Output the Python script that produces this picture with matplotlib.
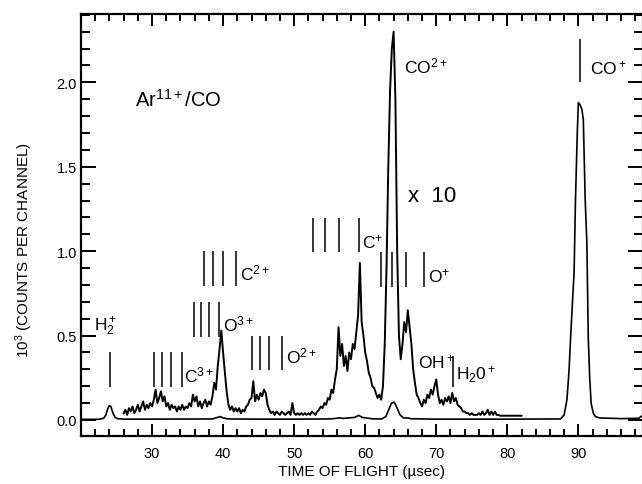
import numpy as np
import matplotlib
matplotlib.use("Agg")
import matplotlib.pyplot as plt
from matplotlib.ticker import MultipleLocator

plt.rcParams["font.family"] = ["Liberation Sans", "DejaVu Sans"]
plt.rcParams["mathtext.fontset"] = "custom"
plt.rcParams["mathtext.rm"] = "Liberation Sans"
plt.rcParams["mathtext.it"] = "Liberation Sans"

# ---- data (time of flight in usec, counts in 10^3 per channel) ----
# raw spectrum
t_raw = [20.0, 22.5, 23.2, 23.5, 23.8, 24.0, 24.2, 24.5, 24.8, 25.2, 26.0, 30.0,
         38.5, 39.2, 39.6, 40.0, 40.7, 45.0, 50.0, 55.0, 56.0, 56.4, 56.8, 58.5,
         59.1, 59.6, 61.0, 62.3, 62.9, 63.3, 63.7, 64.1, 64.5, 64.9, 65.4, 66.0,
         66.5, 70.0, 80.0, 87.5, 88.0, 88.4, 88.7, 88.9, 89.2, 89.4, 89.6, 89.85,
         90.0, 90.2, 90.5, 90.7, 90.96, 91.2, 91.4, 91.6, 91.8, 92.1, 92.4, 93.0,
         96.0, 98.5, 98.8, 99.1]
y_raw = [0.004, 0.004, 0.01, 0.03, 0.07, 0.085, 0.08, 0.04, 0.015, 0.007, 0.005, 0.005,
         0.006, 0.015, 0.02, 0.012, 0.006, 0.005, 0.005, 0.006, 0.01, 0.013, 0.009, 0.015,
         0.027, 0.015, 0.007, 0.006, 0.02, 0.06, 0.10, 0.105, 0.07, 0.03, 0.012, 0.012,
         0.007, 0.005, 0.005, 0.006, 0.03, 0.12, 0.30, 0.48, 0.72, 0.87, 1.31, 1.70,
         1.88, 1.87, 1.84, 1.78, 1.31, 1.05, 0.48, 0.25, 0.10, 0.04, 0.02, 0.012,
         0.008, 0.01, 0.02, 0.025]

# spectrum multiplied by 10, sampled every 0.25 usec from 26 to 82
t_x10 = np.arange(26.0, 82.01, 0.25)
y_x10 = [
    0.04, 0.06, 0.03, 0.07, 0.05, 0.08, 0.04, 0.06,   # 26
    0.09, 0.05, 0.08, 0.11, 0.06, 0.09, 0.07, 0.10,   # 28
    0.08, 0.12, 0.18, 0.10, 0.13, 0.17, 0.11, 0.14,   # 30
    0.08, 0.10, 0.06, 0.09, 0.07, 0.08, 0.05, 0.08,   # 32
    0.06, 0.09, 0.06, 0.08, 0.07, 0.10, 0.08, 0.15,   # 34
    0.11, 0.14, 0.08, 0.11, 0.07, 0.10, 0.12, 0.08,   # 36
    0.11, 0.09, 0.14, 0.22, 0.18, 0.32, 0.42, 0.53,   # 38
    0.40, 0.28, 0.17, 0.09, 0.06, 0.08, 0.05, 0.07,   # 40
    0.05, 0.07, 0.04, 0.06, 0.05, 0.08, 0.09, 0.12,   # 42
    0.13, 0.23, 0.11, 0.15, 0.12, 0.16, 0.14, 0.18,   # 44
    0.16, 0.09, 0.06, 0.04, 0.05, 0.03, 0.05, 0.04,   # 46
    0.03, 0.05, 0.04, 0.03, 0.04, 0.05, 0.03, 0.10,   # 48
    0.04, 0.03, 0.04, 0.03, 0.04, 0.03, 0.04, 0.03,   # 50
    0.04, 0.03, 0.05, 0.04, 0.03, 0.05, 0.06, 0.08,   # 52
    0.07, 0.10, 0.09, 0.13, 0.12, 0.18, 0.16, 0.24,   # 54
    0.30, 0.55, 0.38, 0.45, 0.32, 0.38, 0.29, 0.40,   # 56
    0.36, 0.45, 0.42, 0.52, 0.62, 0.93, 0.58, 0.50,   # 58
    0.40, 0.35, 0.28, 0.25, 0.20, 0.19, 0.16, 0.13,   # 60
    0.15, 0.12, 0.20, 0.45, 0.90, 1.50, 1.95, 2.20,   # 62
    2.30, 1.90, 1.00, 0.50, 0.36, 0.45, 0.58, 0.52,   # 64
    0.65, 0.55, 0.45, 0.30, 0.22, 0.15, 0.13, 0.10,   # 66
    0.08, 0.12, 0.10, 0.15, 0.13, 0.18, 0.15, 0.20,   # 68
    0.24, 0.15, 0.10, 0.12, 0.09, 0.13, 0.11, 0.14,   # 70
    0.10, 0.16, 0.11, 0.13, 0.09, 0.08, 0.07, 0.05,   # 72
    0.05, 0.04, 0.04, 0.03, 0.04, 0.03, 0.03, 0.03,   # 74
    0.04, 0.03, 0.05, 0.03, 0.04, 0.06, 0.03, 0.05,   # 76
    0.03, 0.05, 0.03, 0.03, 0.025, 0.025, 0.025, 0.025,  # 78
    0.025, 0.025, 0.025, 0.025, 0.025, 0.025, 0.025, 0.025, 0.025,  # 80-82
]

# ion marker groups: (x positions, y bottom, y top, label, label x, label y)
markers = [
    ([24.1], 0.195, 0.40, "H$_2^+$", 21.9, 0.56),
    ([30.3, 31.45, 32.6, 34.15], 0.195, 0.40, "C$^{3+}$", 34.5, 0.27),
    ([35.95, 36.9, 38.0, 39.4], 0.49, 0.70, "O$^{3+}$", 39.95, 0.57),
    ([37.3, 38.6, 39.95, 41.8], 0.795, 1.0, "C$^{2+}$", 42.4, 0.875),
    ([44.0, 45.2, 46.5, 48.25], 0.296, 0.50, "O$^{2+}$", 48.9, 0.38),
    ([52.7, 54.35, 56.35, 59.1], 0.997, 1.195, "C$^{+}$", 59.55, 1.06),
    ([62.2, 63.8, 65.75, 68.25], 0.79, 0.993, "O$^{+}$", 68.9, 0.855),
    ([72.3], 0.194, 0.381, "H$_2$0$^+$", 72.85, 0.272),
    ([90.3], 2.0, 2.256, "CO$^+$", 91.6, 2.09),
]

fig = plt.figure(figsize=(6.42, 4.85), dpi=100)
ax = fig.add_axes([81 / 642, 48 / 485, 562 / 642, 422 / 485])

ax.plot(t_raw, y_raw, color="black", lw=1.2)
ax.plot(t_x10, y_x10, color="black", lw=1.4)

for xs, y0, y1, lab, lx, ly in markers:
    ax.vlines(xs, y0, y1, color="black", lw=1.1)
    ax.text(lx, ly, lab, fontsize=12.5, ha="left", va="center")

ax.text(67.5, 0.345, "OH$^+$", fontsize=12.5, ha="left", va="center")
ax.text(65.5, 2.1, "CO$^{2+}$", fontsize=12.5, ha="left", va="center")
ax.text(66.0, 1.33, "x  10", fontsize=16, ha="left", va="center")
ax.text(27.6, 1.90, "Ar$^{11+}$/CO", fontsize=14.5, ha="left", va="center")

ax.set_xlim(20, 99.1)
ax.set_ylim(-0.095, 2.405)
ax.xaxis.set_major_locator(MultipleLocator(10))
ax.xaxis.set_minor_locator(MultipleLocator(2))
ax.yaxis.set_major_locator(MultipleLocator(0.5))
ax.yaxis.set_minor_locator(MultipleLocator(0.1))
ax.set_xticks([30, 40, 50, 60, 70, 80, 90])
ax.set_yticks([0.0, 0.5, 1.0, 1.5, 2.0])
ax.set_yticklabels(["0.0", "0.5", "1.0", "1.5", "2.0"])

ax.tick_params(which="both", direction="in", top=True, right=True, width=1.4, colors="black")
ax.tick_params(axis="x", which="major", length=8.6, pad=7, labelsize=10.5)
ax.tick_params(axis="x", which="minor", length=5)
ax.tick_params(axis="y", which="major", length=10.5, pad=3, labelsize=10.5)
ax.tick_params(axis="y", which="minor", length=6.5)
for s in ax.spines.values():
    s.set_linewidth(1.6)

fig.text(362 / 642, 1 - 472 / 485, "TIME OF FLIGHT (µsec)", fontsize=11, ha="center", va="center")
fig.text(24 / 642, 1 - 250 / 485, "10$^3$ (COUNTS PER CHANNEL)", fontsize=11,
         ha="center", va="center", rotation=90)

fig.savefig("out.png", dpi=100)
